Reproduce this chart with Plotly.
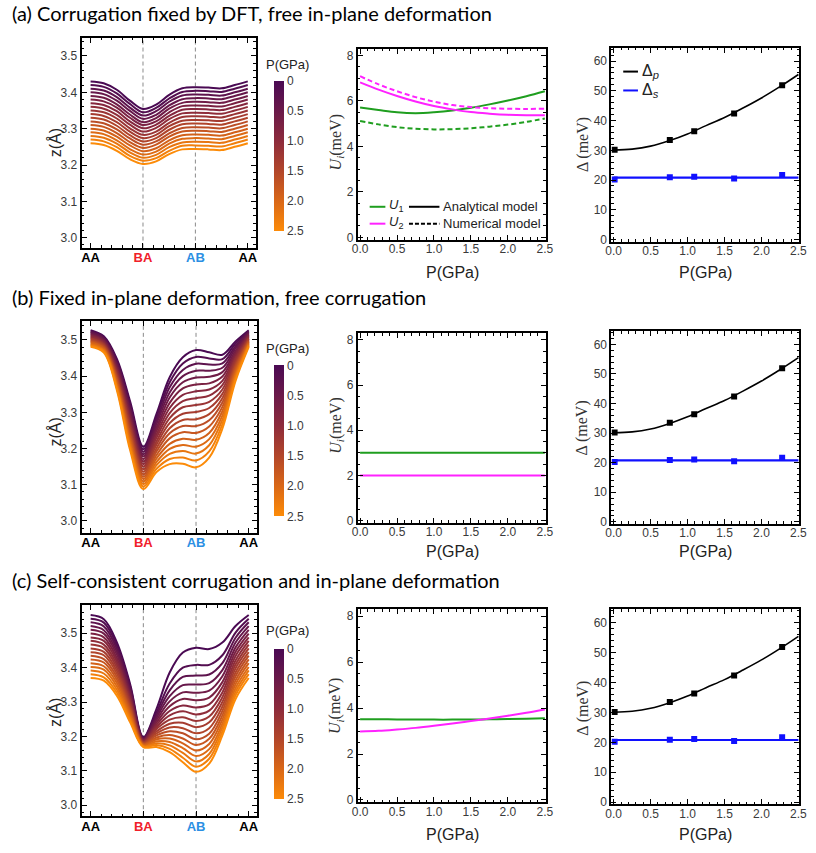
import plotly.graph_objects as go
from plotly.colors import sample_colorscale

W, H = 816, 853

# ---------------- data ----------------
P_levels = [0.0, 0.147, 0.294, 0.441, 0.588, 0.735, 0.882, 1.029, 1.176,
            1.324, 1.471, 1.618, 1.765, 1.912, 2.059, 2.206, 2.353, 2.5]
x_nodes = [0, 0.25, 0.5, 0.75, 1.0, 1.25, 1.5, 1.75, 2.0, 2.25, 2.5, 2.75, 3.0]
stack_pos = [0, 1, 2, 3]
stack_labels = ["AA", "BA", "AB", "AA"]

# (a) corrugation fixed by DFT
z_a = [
    [3.430, 3.425, 3.407, 3.377, 3.354, 3.366, 3.393, 3.411, 3.414, 3.413, 3.411, 3.420, 3.430],
    [3.420, 3.415, 3.397, 3.368, 3.345, 3.357, 3.383, 3.401, 3.404, 3.403, 3.401, 3.410, 3.420],
    [3.410, 3.405, 3.387, 3.358, 3.336, 3.348, 3.374, 3.391, 3.394, 3.393, 3.391, 3.400, 3.410],
    [3.400, 3.395, 3.377, 3.349, 3.327, 3.338, 3.364, 3.381, 3.384, 3.383, 3.381, 3.390, 3.400],
    [3.390, 3.385, 3.367, 3.339, 3.318, 3.329, 3.355, 3.371, 3.374, 3.373, 3.371, 3.380, 3.390],
    [3.380, 3.375, 3.358, 3.330, 3.310, 3.320, 3.345, 3.362, 3.364, 3.363, 3.361, 3.370, 3.380],
    [3.370, 3.365, 3.348, 3.320, 3.301, 3.311, 3.335, 3.352, 3.354, 3.353, 3.351, 3.360, 3.370],
    [3.360, 3.355, 3.338, 3.311, 3.292, 3.302, 3.326, 3.342, 3.344, 3.343, 3.341, 3.350, 3.360],
    [3.350, 3.345, 3.328, 3.301, 3.283, 3.292, 3.316, 3.332, 3.334, 3.333, 3.331, 3.340, 3.350],
    [3.340, 3.335, 3.318, 3.292, 3.274, 3.283, 3.307, 3.322, 3.324, 3.323, 3.321, 3.330, 3.340],
    [3.330, 3.325, 3.308, 3.282, 3.265, 3.274, 3.297, 3.312, 3.314, 3.313, 3.311, 3.320, 3.330],
    [3.320, 3.315, 3.298, 3.273, 3.256, 3.265, 3.287, 3.302, 3.304, 3.303, 3.301, 3.310, 3.320],
    [3.310, 3.305, 3.288, 3.263, 3.247, 3.256, 3.278, 3.292, 3.294, 3.293, 3.291, 3.300, 3.310],
    [3.300, 3.295, 3.278, 3.254, 3.238, 3.246, 3.268, 3.282, 3.284, 3.283, 3.281, 3.290, 3.300],
    [3.290, 3.285, 3.268, 3.244, 3.229, 3.237, 3.259, 3.272, 3.274, 3.273, 3.271, 3.280, 3.290],
    [3.280, 3.275, 3.259, 3.235, 3.220, 3.228, 3.249, 3.262, 3.264, 3.263, 3.261, 3.270, 3.280],
    [3.270, 3.265, 3.249, 3.225, 3.212, 3.219, 3.239, 3.253, 3.254, 3.253, 3.251, 3.260, 3.270],
    [3.260, 3.255, 3.239, 3.216, 3.203, 3.210, 3.230, 3.243, 3.244, 3.243, 3.241, 3.250, 3.260],
]

# (b) fixed in-plane deformation, free corrugation
z_b = [
    [3.527, 3.510, 3.447, 3.330, 3.205, 3.296, 3.397, 3.452, 3.472, 3.466, 3.459, 3.496, 3.527],
    [3.524, 3.507, 3.442, 3.322, 3.198, 3.287, 3.383, 3.435, 3.453, 3.449, 3.447, 3.490, 3.524],
    [3.522, 3.505, 3.437, 3.314, 3.191, 3.277, 3.369, 3.417, 3.434, 3.432, 3.435, 3.483, 3.522],
    [3.519, 3.502, 3.432, 3.306, 3.184, 3.268, 3.355, 3.400, 3.415, 3.415, 3.423, 3.477, 3.519],
    [3.516, 3.499, 3.427, 3.298, 3.178, 3.258, 3.341, 3.383, 3.396, 3.398, 3.411, 3.470, 3.516],
    [3.514, 3.497, 3.421, 3.290, 3.171, 3.249, 3.326, 3.366, 3.377, 3.380, 3.399, 3.464, 3.514],
    [3.511, 3.494, 3.416, 3.282, 3.164, 3.239, 3.312, 3.348, 3.358, 3.363, 3.387, 3.458, 3.511],
    [3.508, 3.491, 3.411, 3.274, 3.157, 3.230, 3.298, 3.331, 3.339, 3.346, 3.375, 3.451, 3.508],
    [3.505, 3.489, 3.406, 3.267, 3.150, 3.220, 3.284, 3.314, 3.320, 3.329, 3.363, 3.445, 3.505],
    [3.503, 3.486, 3.401, 3.259, 3.143, 3.211, 3.270, 3.296, 3.301, 3.312, 3.351, 3.438, 3.503],
    [3.500, 3.484, 3.396, 3.251, 3.136, 3.201, 3.256, 3.279, 3.281, 3.295, 3.339, 3.432, 3.500],
    [3.497, 3.481, 3.391, 3.243, 3.129, 3.192, 3.242, 3.262, 3.262, 3.278, 3.327, 3.426, 3.497],
    [3.495, 3.478, 3.386, 3.235, 3.122, 3.182, 3.228, 3.245, 3.243, 3.261, 3.315, 3.419, 3.495],
    [3.492, 3.476, 3.380, 3.227, 3.116, 3.173, 3.213, 3.227, 3.224, 3.243, 3.303, 3.413, 3.492],
    [3.489, 3.473, 3.375, 3.219, 3.109, 3.163, 3.199, 3.210, 3.205, 3.226, 3.291, 3.406, 3.489],
    [3.486, 3.470, 3.370, 3.211, 3.102, 3.154, 3.185, 3.193, 3.186, 3.209, 3.279, 3.400, 3.486],
    [3.484, 3.468, 3.365, 3.203, 3.095, 3.144, 3.171, 3.175, 3.167, 3.192, 3.267, 3.393, 3.484],
    [3.481, 3.465, 3.360, 3.195, 3.088, 3.135, 3.157, 3.158, 3.148, 3.175, 3.255, 3.387, 3.481],
]

# (c) self-consistent corrugation and in-plane deformation
z_c = [
    [3.553, 3.541, 3.473, 3.352, 3.198, 3.280, 3.386, 3.444, 3.458, 3.454, 3.473, 3.521, 3.553],
    [3.542, 3.531, 3.464, 3.346, 3.196, 3.270, 3.354, 3.400, 3.408, 3.408, 3.436, 3.502, 3.542],
    [3.532, 3.520, 3.455, 3.339, 3.195, 3.262, 3.334, 3.373, 3.377, 3.380, 3.413, 3.487, 3.532],
    [3.521, 3.509, 3.446, 3.332, 3.193, 3.255, 3.317, 3.349, 3.351, 3.355, 3.393, 3.473, 3.521],
    [3.510, 3.499, 3.437, 3.326, 3.191, 3.248, 3.302, 3.328, 3.327, 3.333, 3.375, 3.459, 3.510],
    [3.499, 3.488, 3.427, 3.319, 3.190, 3.241, 3.288, 3.309, 3.305, 3.313, 3.358, 3.446, 3.499],
    [3.488, 3.478, 3.418, 3.313, 3.188, 3.234, 3.274, 3.290, 3.284, 3.293, 3.343, 3.434, 3.488],
    [3.478, 3.467, 3.409, 3.306, 3.186, 3.228, 3.261, 3.273, 3.264, 3.275, 3.328, 3.421, 3.478],
    [3.467, 3.457, 3.400, 3.300, 3.184, 3.222, 3.249, 3.256, 3.245, 3.258, 3.314, 3.409, 3.467],
    [3.456, 3.446, 3.391, 3.293, 3.183, 3.215, 3.237, 3.240, 3.227, 3.241, 3.300, 3.398, 3.456],
    [3.445, 3.436, 3.382, 3.287, 3.181, 3.209, 3.226, 3.224, 3.209, 3.224, 3.287, 3.386, 3.445],
    [3.435, 3.425, 3.373, 3.280, 3.179, 3.203, 3.215, 3.209, 3.192, 3.208, 3.274, 3.375, 3.435],
    [3.424, 3.415, 3.364, 3.274, 3.178, 3.197, 3.204, 3.194, 3.175, 3.193, 3.261, 3.363, 3.424],
    [3.413, 3.404, 3.355, 3.267, 3.176, 3.192, 3.194, 3.180, 3.159, 3.178, 3.249, 3.352, 3.413],
    [3.402, 3.394, 3.345, 3.261, 3.174, 3.186, 3.184, 3.166, 3.143, 3.163, 3.237, 3.341, 3.402],
    [3.392, 3.383, 3.336, 3.254, 3.172, 3.180, 3.174, 3.152, 3.127, 3.149, 3.226, 3.330, 3.392],
    [3.381, 3.372, 3.327, 3.248, 3.171, 3.175, 3.164, 3.138, 3.112, 3.135, 3.214, 3.320, 3.381],
    [3.370, 3.362, 3.318, 3.241, 3.169, 3.169, 3.154, 3.125, 3.097, 3.121, 3.203, 3.309, 3.370],
]

# middle column: U_i (meV) vs P (GPa)
P_grid = [0.0, 0.25, 0.5, 0.75, 1.0, 1.25, 1.5, 1.75, 2.0, 2.25, 2.5]
U1_ana_a = [5.71, 5.60, 5.50, 5.46, 5.50, 5.58, 5.70, 5.85, 6.02, 6.21, 6.43]
U1_num_a = [5.12, 4.97, 4.85, 4.78, 4.75, 4.76, 4.80, 4.87, 4.96, 5.08, 5.23]
U2_ana_a = [6.82, 6.50, 6.22, 5.98, 5.78, 5.63, 5.51, 5.44, 5.39, 5.37, 5.37]
U2_num_a = [7.09, 6.73, 6.43, 6.17, 5.97, 5.82, 5.73, 5.68, 5.66, 5.65, 5.66]
U1_b = [3.0, 3.0, 3.0, 3.0, 3.0, 3.0, 3.0, 3.0, 3.0, 3.0, 3.0]
U2_b = [2.0, 2.0, 2.0, 2.0, 2.0, 2.0, 2.0, 2.0, 2.0, 2.0, 2.0]
U1_c = [3.52, 3.515, 3.51, 3.505, 3.50, 3.50, 3.505, 3.515, 3.525, 3.54, 3.56]
U2_c = [2.98, 3.01, 3.07, 3.14, 3.23, 3.33, 3.44, 3.55, 3.67, 3.80, 3.94]

# right column: Delta (meV) vs P (GPa)
Dp_fit = [30.1, 30.4, 31.4, 33.2, 35.5, 38.3, 41.0, 44.2, 47.6, 51.4, 55.5]
Ds_fit = [20.8, 20.8, 20.8, 20.8, 20.8, 20.8, 20.8, 20.8, 20.8, 20.8, 20.8]
P_dft = [0.013, 0.76, 1.09, 1.63, 2.28]
Dp_dft = [30.2, 33.5, 36.4, 42.4, 51.9]
Ds_dft = [20.2, 20.9, 21.1, 20.5, 21.7]

# ---------------- styling helpers ----------------
SANS = "Liberation Sans, Arial, sans-serif"
SERIF = "Liberation Serif, Times New Roman, serif"
TICKC = "#3a3a3a"
GREEN = "#1f9e1f"
MAGENTA = "#ff22ff"
BLUE = "#1010ff"

cs = [[0.0, "#4a0a53"], [0.2, "#6a1949"], [0.4, "#8d2b3b"],
      [0.6, "#b2462a"], [0.8, "#d96717"], [1.0, "#fc8b08"]]
cs_bar = [[1 - f, c] for f, c in reversed(cs)]


def px_x(a, b):
    return [a / W, b / W]


def px_y(top, bottom):
    return [1 - bottom / H, 1 - top / H]


def ax_id(i):
    return "" if i == 1 else str(i)


fig = go.Figure()

rows = [
    dict(z=z_a, left=(77, 254, 38, 249), lr=[2.973, 3.550],
         mid=(358, 549, 49, 241), right=(616, 807, 48, 243),
         cb=(82, 232), cbt=65, ztit=144, mtit=143, xtit=274),
    dict(z=z_b, left=(77, 255, 323, 536), lr=[2.967, 3.552],
         mid=(358, 549, 335, 526), right=(616, 807, 333, 527),
         cb=(368, 519), cbt=351, ztit=435, mtit=428, xtit=555),
    dict(z=z_c, left=(77, 255, 609, 821), lr=[2.968, 3.581],
         mid=(358, 549, 613, 807), right=(616, 807, 613, 809),
         cb=(653, 803), cbt=634, ztit=717, mtit=710, xtit=839),
]

U_sets = [
    [(U1_ana_a, GREEN, "solid"), (U1_num_a, GREEN, "5px,3px"),
     (U2_ana_a, MAGENTA, "solid"), (U2_num_a, MAGENTA, "5px,3px")],
    [(U1_b, GREEN, "solid"), (U2_b, MAGENTA, "solid")],
    [(U1_c, GREEN, "solid"), (U2_c, MAGENTA, "solid")],
]

layout = dict(width=W, height=H, margin=dict(l=0, r=0, t=0, b=0),
              paper_bgcolor="white", plot_bgcolor="white", showlegend=False,
              font=dict(family=SANS, size=12, color=TICKC))
annotations = []
shapes = []

frame = dict(showline=True, mirror="allticks", linecolor="black", linewidth=2,
             ticks="inside", ticklen=5, tickwidth=1, tickcolor="black",
             showgrid=False, zeroline=False,
             tickfont=dict(family=SANS, size=12, color=TICKC))

for r, row in enumerate(rows):
    ia, ib, ic = 3 * r + 1, 3 * r + 2, 3 * r + 3
    xa, ya = "x" + ax_id(ia), "y" + ax_id(ia)
    xb, yb = "x" + ax_id(ib), "y" + ax_id(ib)
    xc, yc = "x" + ax_id(ic), "y" + ax_id(ic)
    cax = "coloraxis" if r == 0 else f"coloraxis{r + 1}"

    # ---- left: z profiles ----
    L = row["left"]
    layout["xaxis" + ax_id(ia)] = dict(frame, domain=px_x(L[0], L[1]), range=[-0.17, 3.15],
                                       anchor=ya, tickvals=stack_pos, ticklabelstandoff=-3,
                                       ticktext=["<b>AA</b>", "<b><span style='color:#f0202a'>BA</span></b>",
                                                 "<b><span style='color:#2b8fe3'>AB</span></b>", "<b>AA</b>"],
                                       tickfont=dict(family=SANS, size=13, color="black"),
                                       minor=dict(ticks="inside", ticklen=2.5, dtick=0.2, tickcolor="black"))
    layout["yaxis" + ax_id(ia)] = dict(frame, domain=px_y(L[2], L[3]), range=row["lr"],
                                       anchor=xa, dtick=0.1, tickformat=".1f",
                                       minor=dict(ticks="inside", ticklen=2.5, dtick=0.02, tickcolor="black"))
    for xv in stack_pos[1:3]:
        shapes.append(dict(type="line", xref=xa, yref=f"{ya} domain", x0=xv, x1=xv, y0=0, y1=1,
                           line=dict(color="#8a8a8a", width=1, dash="4px,3px"), layer="below"))
    colors = sample_colorscale(cs, [p / 2.5 for p in P_levels])
    for p, zz, col in zip(P_levels, row["z"], colors):
        fig.add_trace(go.Scatter(x=x_nodes, y=zz, mode="lines", xaxis=xa, yaxis=ya,
                                 line=dict(color=col, width=2, shape="spline", smoothing=1.0),
                                 hoverinfo="skip"))
    fig.add_trace(go.Scatter(x=[None], y=[None], mode="markers", xaxis=xa, yaxis=ya,
                             marker=dict(color=[0.0], coloraxis=cax), hoverinfo="skip"))
    cb0, cb1 = row["cb"]
    layout[cax] = dict(colorscale=cs_bar, cmin=-2.5, cmax=0.0,
                       colorbar=dict(x=273 / W, xanchor="left", xpad=0, ypad=0,
                                     y=1 - (cb0 + cb1) / 2 / H, yanchor="middle",
                                     lenmode="pixels", len=cb1 - cb0, thickness=10,
                                     outlinewidth=0, ticks="",
                                     tickvals=[0, -0.5, -1.0, -1.5, -2.0, -2.5],
                                     ticktext=["0", "0.5", "1.0", "1.5", "2.0", "2.5"],
                                     tickfont=dict(family=SANS, size=12, color=TICKC)))
    annotations.append(dict(x=286 / W, y=1 - row["cbt"] / H, xref="paper", yref="paper",
                            text="P(GPa)", showarrow=False, xanchor="center", yanchor="middle",
                            font=dict(family=SANS, size=13, color="#222")))
    annotations.append(dict(x=50 / W, y=1 - row["ztit"] / H, xref="paper", yref="paper",
                            text="z(Å)", showarrow=False, textangle=-90,
                            xanchor="center", yanchor="middle",
                            font=dict(family=SANS, size=16, color="#222")))

    # ---- middle: U_i ----
    M = row["mid"]
    layout["xaxis" + ax_id(ib)] = dict(frame, domain=px_x(M[0], M[1]), range=[-0.03, 2.51],
                                       anchor=yb, dtick=0.5, tickformat=".1f", ticklabelstandoff=-3,
                                       minor=dict(ticks="inside", ticklen=2.5, dtick=0.1, tickcolor="black"))
    layout["yaxis" + ax_id(ib)] = dict(frame, domain=px_y(M[2], M[3]), range=[-0.1, 8.3],
                                       anchor=xb, dtick=2,
                                       minor=dict(ticks="inside", ticklen=2.5, dtick=0.5, tickcolor="black"))
    for yy, col, dsh in U_sets[r]:
        fig.add_trace(go.Scatter(x=P_grid, y=yy, mode="lines", xaxis=xb, yaxis=yb,
                                 line=dict(color=col, width=2, dash=dsh, shape="spline"),
                                 hoverinfo="skip"))
    annotations.append(dict(x=336 / W, y=1 - row["mtit"] / H, xref="paper", yref="paper",
                            text="<i>U<sub>i</sub></i>(meV)", showarrow=False, textangle=-90,
                            xanchor="center", yanchor="middle",
                            font=dict(family=SERIF, size=16, color="#333")))
    annotations.append(dict(x=454 / W, y=1 - row["xtit"] / H, xref="paper", yref="paper",
                            text="P(GPa)", showarrow=False, xanchor="center", yanchor="middle",
                            font=dict(family=SANS, size=16, color="#222")))

    # ---- right: Delta ----
    R = row["right"]
    layout["xaxis" + ax_id(ic)] = dict(frame, domain=px_x(R[0], R[1]), range=[-0.03, 2.51],
                                       anchor=yc, dtick=0.5, tickformat=".1f", ticklabelstandoff=-3,
                                       minor=dict(ticks="inside", ticklen=2.5, dtick=0.1, tickcolor="black"))
    layout["yaxis" + ax_id(ic)] = dict(frame, domain=px_y(R[2], R[3]), range=[-0.7, 64.5],
                                       anchor=xc, dtick=10,
                                       minor=dict(ticks="inside", ticklen=2.5, dtick=2, tickcolor="black"))
    fig.add_trace(go.Scatter(x=P_grid, y=Dp_fit, mode="lines", xaxis=xc, yaxis=yc,
                             line=dict(color="black", width=1.6, shape="spline"), hoverinfo="skip"))
    fig.add_trace(go.Scatter(x=P_grid, y=Ds_fit, mode="lines", xaxis=xc, yaxis=yc,
                             line=dict(color=BLUE, width=2.2), hoverinfo="skip"))
    fig.add_trace(go.Scatter(x=P_dft, y=Dp_dft, mode="markers", xaxis=xc, yaxis=yc,
                             marker=dict(symbol="square", size=6, color="black"), hoverinfo="skip"))
    fig.add_trace(go.Scatter(x=P_dft, y=Ds_dft, mode="markers", xaxis=xc, yaxis=yc,
                             marker=dict(symbol="square", size=6, color=BLUE), hoverinfo="skip"))
    annotations.append(dict(x=587 / W, y=1 - (row["mtit"] + 2) / H, xref="paper", yref="paper",
                            text="Δ (meV)", showarrow=False, textangle=-90,
                            xanchor="center", yanchor="middle",
                            font=dict(family=SERIF, size=16, color="#333")))
    annotations.append(dict(x=712 / W, y=1 - row["xtit"] / H, xref="paper", yref="paper",
                            text="P(GPa)", showarrow=False, xanchor="center", yanchor="middle",
                            font=dict(family=SANS, size=16, color="#222")))

# ---- panel titles ----
titles = [("(a) Corrugation fixed by DFT, free in-plane deformation", 13),
          ("(b) Fixed in-plane deformation, free corrugation", 299),
          ("(c) Self-consistent corrugation and in-plane deformation", 583)]
for txt, yy in titles:
    annotations.append(dict(x=4 / W, y=1 - yy / H, xref="paper", yref="paper", text=txt,
                            showarrow=False, xanchor="left", yanchor="middle",
                            font=dict(family="Lato, Open Sans, sans-serif", size=20, color="black")))


# ---- legend of panel (a) middle ----
def pline(x0, x1, y, color, dash="solid", width=2):
    shapes.append(dict(type="line", xref="paper", yref="paper",
                       x0=x0 / W, x1=x1 / W, y0=1 - y / H, y1=1 - y / H,
                       line=dict(color=color, width=width, dash=dash)))


def ptext(x, y, txt, size=13, family=SANS, color="#222"):
    annotations.append(dict(x=x / W, y=1 - y / H, xref="paper", yref="paper", text=txt,
                            showarrow=False, xanchor="left", yanchor="middle",
                            font=dict(family=family, size=size, color=color)))


pline(370, 386, 208, GREEN)
ptext(388, 207, "<i>U</i><sub>1</sub>", size=13)
pline(410, 441, 208, "black")
ptext(443, 208, "Analytical model", size=13)
pline(370, 386, 225, MAGENTA)
ptext(388, 224, "<i>U</i><sub>2</sub>", size=13)
pline(410, 441, 225, "black", dash="4px,2px")
ptext(443, 225, "Numerical model", size=13)

# ---- legend of panel (a) right ----
pline(628, 643, 72, "black")
ptext(645, 72, "Δ<sub><i>p</i></sub>", size=16)
pline(628, 643, 91, BLUE)
ptext(645, 91, "Δ<sub><i>s</i></sub>", size=16)

layout["annotations"] = annotations
layout["shapes"] = shapes
fig.update_layout(**layout)
fig.write_html("out.html")
